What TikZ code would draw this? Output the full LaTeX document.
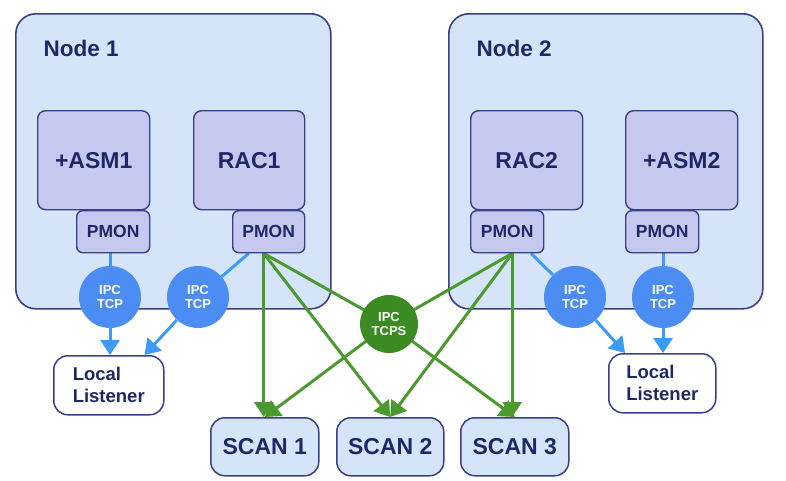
\documentclass[tikz,border=0pt]{standalone}
\usepackage{fontspec}
\setmainfont{Liberation Sans}
\usetikzlibrary{arrows.meta,calc}
\pgfdeclarelayer{back}
\pgfdeclarelayer{bg}
\pgfsetlayers{back,bg,main}
\definecolor{navy}{HTML}{3A3F8C}
\definecolor{txtnavy}{HTML}{1F2766}
\definecolor{nodebg}{HTML}{D6E4FA}
\definecolor{lav}{HTML}{C5C9F0}
\definecolor{ipcblue}{HTML}{4C8DF4}
\definecolor{lineblue}{HTML}{3D9BF5}
\definecolor{tcpsgreen}{HTML}{3B8A22}
\definecolor{linegreen}{HTML}{4A9A30}
\tikzset{
  bigbox/.style={draw=navy, fill=nodebg, line width=1.6pt, rounded corners=20pt, anchor=north west, inner sep=0pt},
  procbox/.style={draw=navy, fill=lav, line width=1.4pt, rounded corners=8pt, anchor=north west, inner sep=0pt, text=txtnavy, font=\bfseries\fontsize{23}{26}\selectfont},
  pmonbox/.style={draw=navy, fill=lav, line width=1.4pt, rounded corners=6pt, anchor=north west, inner sep=0pt, text=txtnavy, font=\bfseries\fontsize{17.5}{20}\selectfont},
  nodelabel/.style={anchor=west, text=txtnavy, font=\bfseries\fontsize{22.5}{26}\selectfont},
  ipc/.style={circle, fill=ipcblue, minimum size=62pt, inner sep=0pt, text=white, align=center, font=\bfseries\fontsize{13}{14}\selectfont},
  tcps/.style={circle, fill=tcpsgreen, minimum size=58pt, inner sep=0pt, text=white, align=center, font=\bfseries\fontsize{13}{14}\selectfont},
  listener/.style={draw=navy, fill=white, line width=1.5pt, rounded corners=14pt, anchor=north west, inner sep=0pt, text=txtnavy, align=left, font=\bfseries\fontsize{18.5}{22}\selectfont},
  scanbox/.style={draw=navy, fill=nodebg, line width=1.5pt, rounded corners=14pt, anchor=north west, inner sep=0pt, text=txtnavy, font=\bfseries\fontsize{23}{26}\selectfont},
  blueline/.style={draw=lineblue, line width=3pt},
  bluearrow/.style={blueline, -{Triangle[width=19pt,length=15pt]}},
  greenarrow/.style={draw=linegreen, line width=3pt, -{Triangle[width=19pt,length=15pt]}},
  greenline/.style={draw=linegreen, line width=3pt},
}
\begin{document}
\begin{tikzpicture}[x=1pt,y=-1pt]
\useasboundingbox (0,0) rectangle (786,480);
% Node boxes
\begin{pgfonlayer}{back}
\node[bigbox, minimum width=315pt, minimum height=295pt] (n1) at (15,13) {};
\node[bigbox, minimum width=314pt, minimum height=295pt] (n2) at (448,13) {};
\end{pgfonlayer}
\node[nodelabel] (l1) at (40,48) {Node 1};
\node[nodelabel] (l2) at (473,48) {Node 2};
% processes node 1
\node[procbox, minimum width=112pt, minimum height=99pt] (asm1) at (37,110) {+ASM1};
\node[pmonbox, minimum width=73pt, minimum height=42pt] (pa1) at (76,210) {PMON};
\node[procbox, minimum width=111pt, minimum height=99pt] (rac1) at (193,110) {RAC1};
\node[pmonbox, minimum width=72pt, minimum height=42pt] (pr1) at (232,210) {PMON};
% processes node 2
\node[procbox, minimum width=112pt, minimum height=99pt] (rac2) at (470,110) {RAC2};
\node[pmonbox, minimum width=73pt, minimum height=42pt] (pr2) at (470,210) {PMON};
\node[procbox, minimum width=112pt, minimum height=99pt] (asm2) at (625,110) {+ASM2};
\node[pmonbox, minimum width=73pt, minimum height=42pt] (pa2) at (625,210) {PMON};
% IPC circles
\node[ipc] (c1) at (110,297) {IPC\\TCP};
\node[ipc] (c2) at (198,297) {IPC\\TCP};
\node[ipc] (c3) at (575,297) {IPC\\TCP};
\node[ipc] (c4) at (663,297) {IPC\\TCP};
\node[tcps] (cg) at (389,324) {IPC\\TCPS};
% listeners
\node[listener, minimum width=110pt, minimum height=59pt] (ll1) at (53,355) {Local\\Listener};
\node[listener, minimum width=107pt, minimum height=59pt] (ll2) at (608,353) {Local\\Listener};
% scans
\node[scanbox, minimum width=108pt, minimum height=58pt] (s1) at (210,417) {SCAN 1};
\node[scanbox, minimum width=107pt, minimum height=58pt] (s2) at (336,417) {SCAN 2};
\node[scanbox, minimum width=108pt, minimum height=58pt] (s3) at (460,417) {SCAN 3};
% anchor points
\coordinate (b1) at (pa1.south -| c1);
\coordinate (b2) at ([xshift=-20pt]pr1.south);
\coordinate (b3) at ([xshift=24pt]pr2.south);
\coordinate (b4) at (pa2.south -| c4);
\coordinate (t1) at (ll1.north -| c1);
\coordinate (t2) at ([xshift=-20pt]ll1.north east);
\coordinate (t3) at ([xshift=17pt]ll2.north west);
\coordinate (t4) at (ll2.north -| c4);
\coordinate (g1) at ([xshift=-5pt]pr1.south);
\coordinate (g2) at ([xshift=5pt]pr2.south);
\begin{pgfonlayer}{bg}
\draw[blueline] (b1) -- (c1);
\draw[bluearrow] (c1) -- (t1);
\draw[blueline] (b2) -- (c2);
\draw[bluearrow] (c2) -- (t2);
\draw[blueline] (b3) -- (c3);
\draw[bluearrow] (c3) -- (t3);
\draw[blueline] (b4) -- (c4);
\draw[bluearrow] (c4) -- (t4);
\draw[greenarrow] (g1) -- (g1 |- s1.north);
\draw[greenarrow] (g1) -- (s2.north);
\draw[greenline] (g1) -- (cg.center);
\draw[greenarrow] (cg.center) -- (s3.north);
\draw[greenarrow] (g2) -- (g2 |- s3.north);
\draw[greenarrow] (g2) -- (s2.north);
\draw[greenline] (g2) -- (cg.center);
\draw[greenarrow] (cg.center) -- (s1.north);
\end{pgfonlayer}
\end{tikzpicture}
\end{document}
